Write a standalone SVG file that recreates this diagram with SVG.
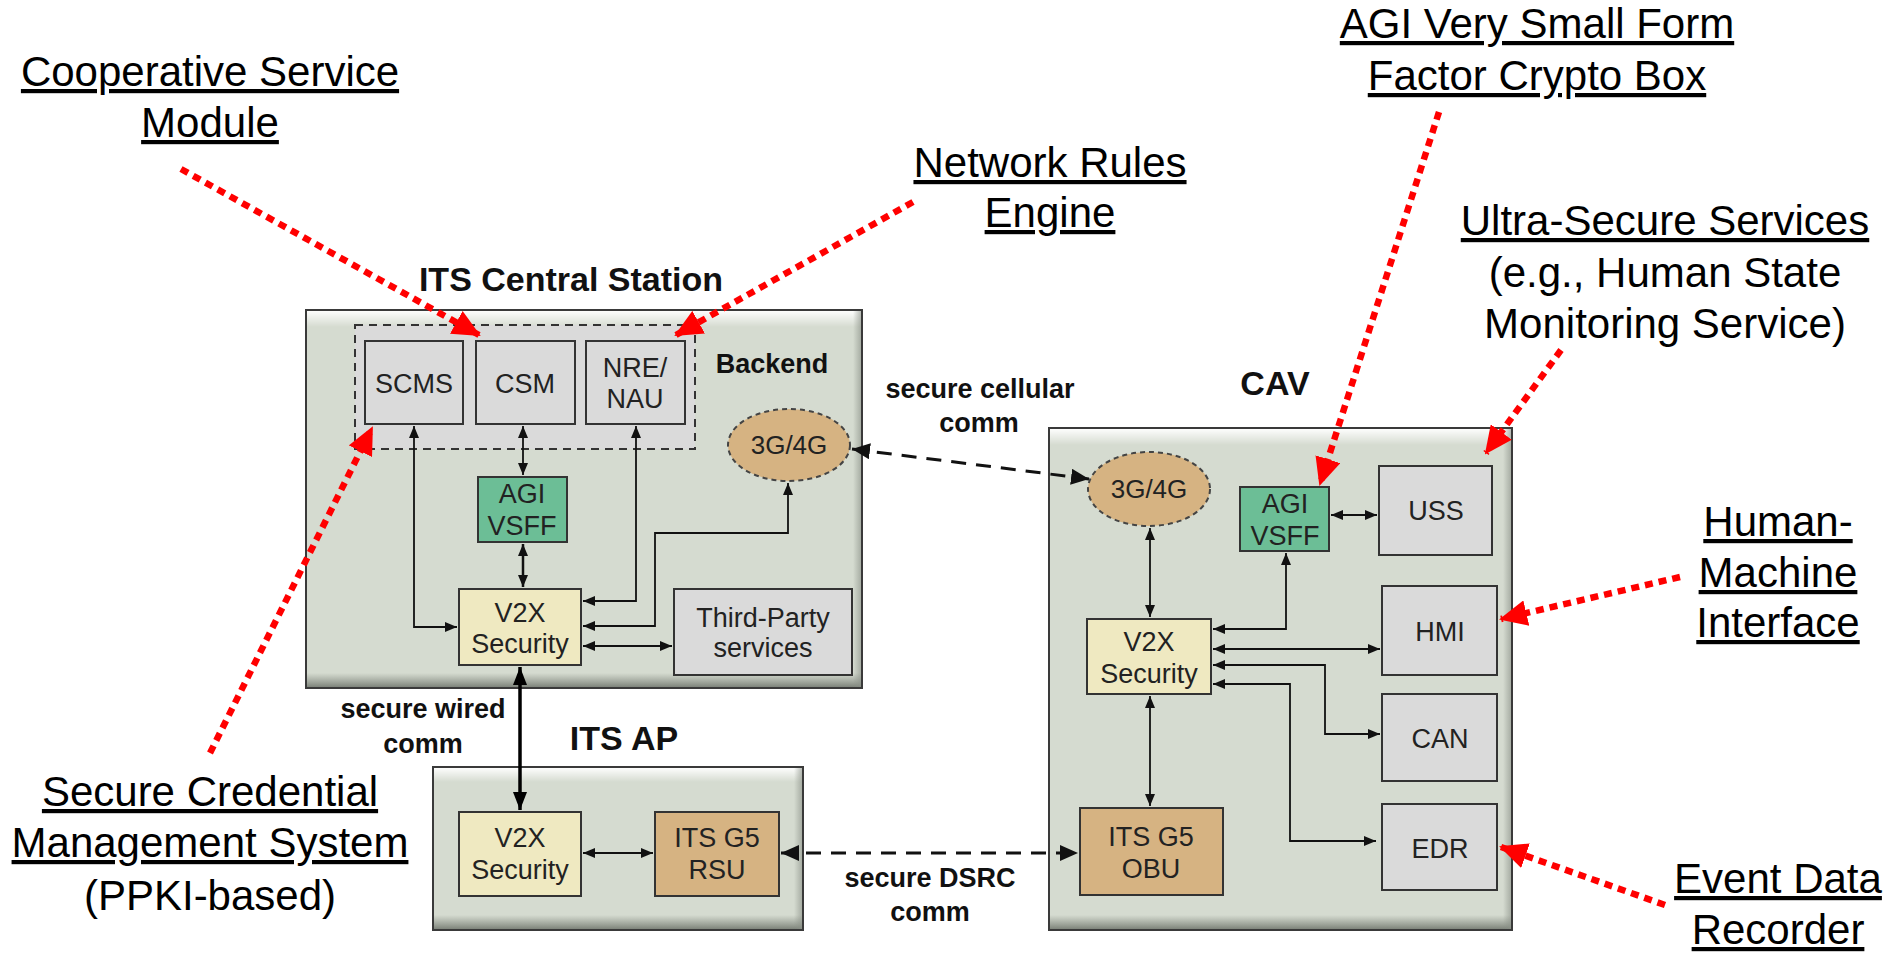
<svg xmlns="http://www.w3.org/2000/svg" width="1895" height="953" viewBox="0 0 1895 953">
<defs>
<style>
.bg{fill:#ffffff}
.cont{fill:#d5dbd0;stroke:#3a3a3a;stroke-width:2}
.grey{fill:#dadada;stroke:#333;stroke-width:2}
.green{fill:#6cbe96;stroke:#333;stroke-width:2}
.yellow{fill:#efe9c1;stroke:#333;stroke-width:2}
.tan{fill:#d6b382;stroke:#333;stroke-width:2}
.ell{fill:#d6b382;stroke:#444;stroke-width:2;stroke-dasharray:5 4}
.dashbox{fill:#dadada;stroke:#333;stroke-width:2;stroke-dasharray:8 6}
.lbl{font-family:"Liberation Sans",Arial,sans-serif;font-size:27px;fill:#222;text-anchor:middle}
.ttl{font-family:"Liberation Sans",Arial,sans-serif;font-size:34px;font-weight:bold;fill:#111;text-anchor:middle}
.clbl{font-family:"Liberation Sans",Arial,sans-serif;font-size:27px;font-weight:bold;fill:#111;text-anchor:middle}
.ann{font-family:"Liberation Sans",Arial,sans-serif;font-size:42px;fill:#000;text-anchor:middle}
.u{text-decoration:underline}
.ln{fill:none;stroke:#111;stroke-width:1.8;marker-start:url(#a);marker-end:url(#a)}
.thick{fill:none;stroke:#000;stroke-width:3.5;marker-start:url(#b);marker-end:url(#b)}
.comm{fill:none;stroke:#111;stroke-width:3;stroke-dasharray:15 10;marker-start:url(#c);marker-end:url(#c)}
.red{fill:none;stroke:#ff0000;stroke-width:6.5;stroke-dasharray:8 6;marker-end:url(#r)}
</style>
<marker id="a" markerUnits="userSpaceOnUse" markerWidth="12" markerHeight="10" refX="12" refY="5" orient="auto-start-reverse"><path d="M0,0 L12,5 L0,10 z" fill="#111"/></marker>
<marker id="b" markerUnits="userSpaceOnUse" markerWidth="18" markerHeight="14" refX="18" refY="7" orient="auto-start-reverse"><path d="M0,0 L18,7 L0,14 z" fill="#000"/></marker>
<marker id="c" markerUnits="userSpaceOnUse" markerWidth="18" markerHeight="16" refX="18" refY="8" orient="auto-start-reverse"><path d="M0,0 L18,8 L0,16 z" fill="#111"/></marker>
<marker id="r" markerUnits="userSpaceOnUse" markerWidth="28" markerHeight="26" refX="26" refY="13" orient="auto"><path d="M0,0 L28,13 L0,26 z" fill="#ff0000"/></marker>
<linearGradient id="hl" x1="0" y1="0" x2="0" y2="1"><stop offset="0" stop-color="#ffffff" stop-opacity="0.95"/><stop offset="1" stop-color="#ffffff" stop-opacity="0"/></linearGradient>
<linearGradient id="sh" x1="0" y1="0" x2="0" y2="1"><stop offset="0" stop-color="#7a8077" stop-opacity="0"/><stop offset="1" stop-color="#6f756c" stop-opacity="0.85"/></linearGradient>
<linearGradient id="shr" x1="0" y1="0" x2="1" y2="0"><stop offset="0" stop-color="#8a9087" stop-opacity="0"/><stop offset="1" stop-color="#8a9087" stop-opacity="0.6"/></linearGradient>
</defs>
<rect class="bg" x="0" y="0" width="1895" height="953"/>

<g id="its-central-station">
<rect class="cont" x="306" y="310" width="556" height="378"/>
<rect x="307" y="311" width="554" height="16" fill="url(#hl)"/>
<rect x="307" y="673" width="554" height="14" fill="url(#sh)"/>
<rect x="853" y="311" width="8" height="376" fill="url(#shr)"/>
<text class="ttl" x="571" y="291">ITS Central Station</text>
</g>
<g id="its-ap">
<rect class="cont" x="433" y="767" width="370" height="163"/>
<rect x="434" y="768" width="368" height="14" fill="url(#hl)"/>
<rect x="434" y="915" width="368" height="14" fill="url(#sh)"/>
<rect x="794" y="768" width="8" height="161" fill="url(#shr)"/>
<text class="ttl" x="624" y="750">ITS AP</text>
</g>
<g id="cav">
<rect class="cont" x="1049" y="428" width="463" height="502"/>
<rect x="1050" y="429" width="461" height="16" fill="url(#hl)"/>
<rect x="1050" y="915" width="461" height="14" fill="url(#sh)"/>
<rect x="1503" y="429" width="8" height="500" fill="url(#shr)"/>
<text class="ttl" x="1275" y="395">CAV</text>
</g>

<g id="backend">
<rect class="dashbox" x="355" y="325" width="340" height="124"/>
<text class="clbl" x="772" y="373">Backend</text>
</g>
<g id="cs-scms"><rect class="grey" x="365" y="341" width="98" height="83"/><text class="lbl" x="414" y="393">SCMS</text></g>
<g id="cs-csm"><rect class="grey" x="476" y="341" width="99" height="83"/><text class="lbl" x="525" y="393">CSM</text></g>
<g id="cs-nre"><rect class="grey" x="586" y="341" width="99" height="83"/><text class="lbl" x="635" y="377">NRE/</text><text class="lbl" x="635" y="408">NAU</text></g>
<g id="cs-agi"><rect class="green" x="478" y="477" width="89" height="65"/><text class="lbl" x="522" y="503">AGI</text><text class="lbl" x="522" y="535">VSFF</text></g>
<g id="cs-v2x"><rect class="yellow" x="459" y="589" width="122" height="76"/><text class="lbl" x="520" y="622">V2X</text><text class="lbl" x="520" y="653">Security</text></g>
<g id="cs-third"><rect class="grey" x="674" y="589" width="178" height="86"/><text class="lbl" x="763" y="627">Third-Party</text><text class="lbl" x="763" y="657">services</text></g>
<g id="cs-3g4g"><ellipse class="ell" cx="789" cy="445" rx="61" ry="36"/><text class="lbl" x="789" y="454" style="font-size:26px">3G/4G</text></g>

<g id="ap-v2x"><rect class="yellow" x="459" y="812" width="122" height="84"/><text class="lbl" x="520" y="847">V2X</text><text class="lbl" x="520" y="879">Security</text></g>
<g id="ap-rsu"><rect class="tan" x="655" y="812" width="124" height="84"/><text class="lbl" x="717" y="847">ITS G5</text><text class="lbl" x="717" y="879">RSU</text></g>

<g id="cav-3g4g"><ellipse class="ell" cx="1149" cy="489" rx="61" ry="37"/><text class="lbl" x="1149" y="498" style="font-size:26px">3G/4G</text></g>
<g id="cav-agi"><rect class="green" x="1240" y="487" width="89" height="64"/><text class="lbl" x="1285" y="513">AGI</text><text class="lbl" x="1285" y="545">VSFF</text></g>
<g id="cav-uss"><rect class="grey" x="1379" y="466" width="113" height="89"/><text class="lbl" x="1436" y="520">USS</text></g>
<g id="cav-hmi"><rect class="grey" x="1382" y="586" width="115" height="89"/><text class="lbl" x="1440" y="641">HMI</text></g>
<g id="cav-can"><rect class="grey" x="1382" y="694" width="115" height="87"/><text class="lbl" x="1440" y="748">CAN</text></g>
<g id="cav-edr"><rect class="grey" x="1382" y="804" width="115" height="86"/><text class="lbl" x="1440" y="858">EDR</text></g>
<g id="cav-v2x"><rect class="yellow" x="1087" y="619" width="124" height="75"/><text class="lbl" x="1149" y="651">V2X</text><text class="lbl" x="1149" y="683">Security</text></g>
<g id="cav-obu"><rect class="tan" x="1080" y="808" width="143" height="87"/><text class="lbl" x="1151" y="846">ITS G5</text><text class="lbl" x="1151" y="878">OBU</text></g>

<g id="connectors">
<path class="ln" d="M414,426 V627 H457"/>
<path class="ln" d="M523,426 V475"/>
<path class="ln" d="M523,544 V587" style="stroke-width:2.5"/>
<path class="ln" d="M636,426 V601 H583"/>
<path class="ln" d="M788,483 V533 H655 V626 H583"/>
<path class="ln" d="M583,646 H672"/>
<path class="thick" d="M520,667 V810"/>
<path class="ln" d="M583,853 H653"/>
<path class="comm" d="M781,853 H1078"/>
<path class="comm" d="M852,449 L1089,479"/>
<path class="ln" d="M1150,528 V617"/>
<path class="ln" d="M1150,696 V806"/>
<path class="ln" d="M1286,553 V629 H1213"/>
<path class="ln" d="M1331,515 H1377"/>
<path class="ln" d="M1213,649 H1380"/>
<path class="ln" d="M1213,665 H1325 V734 H1380"/>
<path class="ln" d="M1213,684 H1290 V841 H1376"/>
<text class="clbl" x="980" y="398">secure cellular</text>
<text class="clbl" x="979" y="432">comm</text>
<text class="clbl" x="423" y="718">secure wired</text>
<text class="clbl" x="423" y="753">comm</text>
<text class="clbl" x="930" y="887">secure DSRC</text>
<text class="clbl" x="930" y="921">comm</text>
</g>

<g id="annotations">
<path class="red" d="M181,169 L479,335"/>
<path class="red" d="M913,202 L676,335"/>
<path class="red" d="M1439,112 L1320,484"/>
<path class="red" d="M1561,350 L1486,453"/>
<path class="red" d="M1680,577 L1501,619"/>
<path class="red" d="M1665,905 L1501,847"/>
<path class="red" d="M210,753 L372,428"/>
</g>
<g id="label-csm"><text class="ann u" x="210" y="86">Cooperative Service</text><text class="ann u" x="210" y="137">Module</text></g>
<g id="label-nre"><text class="ann u" x="1050" y="177">Network Rules</text><text class="ann u" x="1050" y="227">Engine</text></g>
<g id="label-agi"><text class="ann u" x="1537" y="38">AGI Very Small Form</text><text class="ann u" x="1537" y="90">Factor Crypto Box</text></g>
<g id="label-uss"><text class="ann u" x="1665" y="235">Ultra-Secure Services</text><text class="ann" x="1665" y="287">(e.g., Human State</text><text class="ann" x="1665" y="338">Monitoring Service)</text></g>
<g id="label-hmi"><text class="ann u" x="1778" y="536">Human-</text><text class="ann u" x="1778" y="587">Machine</text><text class="ann u" x="1778" y="637">Interface</text></g>
<g id="label-edr"><text class="ann u" x="1778" y="893">Event Data</text><text class="ann u" x="1778" y="944">Recorder</text></g>
<g id="label-scms"><text class="ann u" x="210" y="806">Secure Credential</text><text class="ann u" x="210" y="857">Management System</text><text class="ann" x="210" y="910">(PPKI-based)</text></g>
</svg>
